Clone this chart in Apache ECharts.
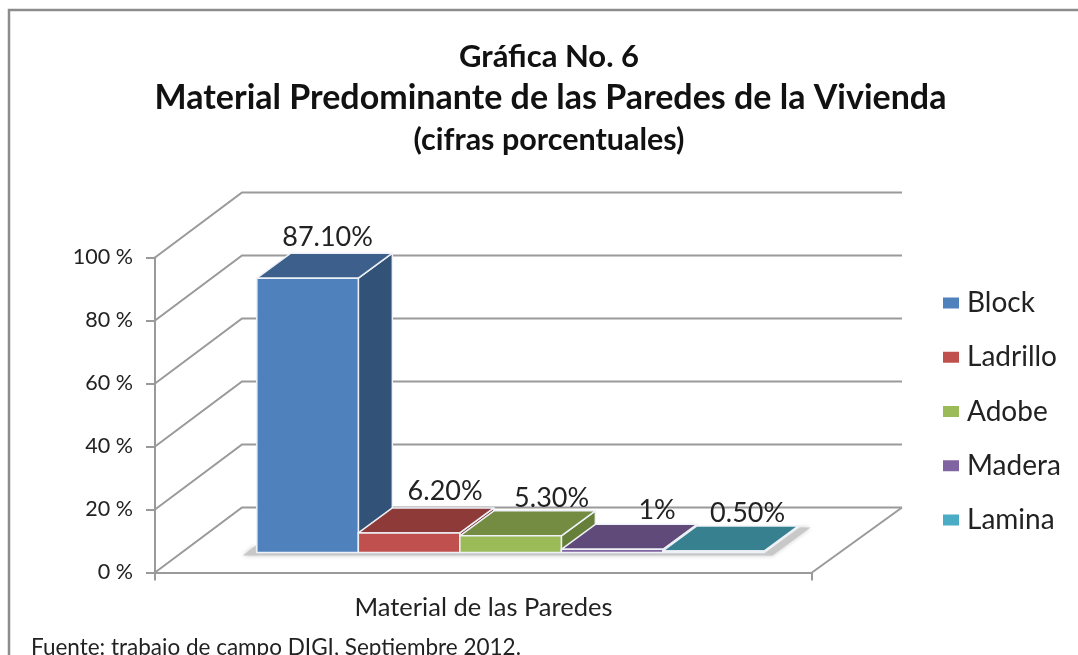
<!DOCTYPE html>
<html><head><meta charset="utf-8">
<style>html,body{margin:0;padding:0;background:#fff}#c{width:1078px;height:655px}</style>
<script src="https://cdn.jsdelivr.net/npm/echarts@6/dist/echarts.min.js"></script>
</head><body><div id="c"></div>
<script>
const categories = ['Material de las Paredes'];
const materials = ['Block', 'Ladrillo', 'Adobe', 'Madera', 'Lamina'];
const values = [87.1, 6.2, 5.3, 1, 0.5];
const valueLabels = ['87.10%', '6.20%', '5.30%', '1%', '0.50%'];
const yTicks = [0, 20, 40, 60, 80, 100];

const frontColors = ['#4f81bd', '#c0504d', '#9bbb59', '#8064a2', '#4bacc6'];
const topColors = ['#3c5f8c', '#8e3a38', '#748c42', '#5f4a79', '#37808f'];
const sideColors = ['#325278', '#7a302e', '#66803a', '#523f69', '#2f6f7d'];
const labelShift = [[20, -16], [36, -17], [41, -13], [45, -14], [34, -13]];

const GREY = '#9a9a9a', INK = '#222222', FONT = 'Lato, Carlito, sans-serif';
const WALL = [87, -65], BAR_DEPTH = [34, -25], BASE_LIFT = 20;
const BAR_START = 0.155, BAR_BAND = 0.1545;

function bar(i) {
  return function (params, api) {
    const base = api.coord([0, 0]);
    const top = api.coord([0, api.value(1)]);
    const band = api.size([1, 0])[0];
    const left = base[0] - band / 2;
    const x0 = left + band * (BAR_START + BAR_BAND * i);
    const x1 = x0 + band * BAR_BAND;
    const yb = base[1] - BASE_LIFT, yt = top[1] - BASE_LIFT;
    const [dx, dy] = BAR_DEPTH;
    const edge = { stroke: '#eef2f7', lineWidth: 1.5, lineJoin: 'round' };
    const poly = (pts, fill) => ({ type: 'polygon', shape: { points: pts }, style: Object.assign({ fill }, edge) });
    return {
      type: 'group',
      children: [
        poly([[x1, yb], [x1 + dx, yb + dy], [x1 + dx, yt + dy], [x1, yt]], sideColors[i]),
        poly([[x0, yt], [x1, yt], [x1 + dx, yt + dy], [x0 + dx, yt + dy]], topColors[i]),
        poly([[x0, yb], [x1, yb], [x1, yt], [x0, yt]], frontColors[i]),
        { type: 'text', z2: 50, style: {
            text: valueLabels[i], x: (x0 + x1) / 2 + labelShift[i][0], y: yt + dy + labelShift[i][1],
            align: 'center', verticalAlign: 'middle', font: '27px ' + FONT, fill: INK } }
      ]
    };
  };
}

function wall(params, api) {
  const p = api.coord([0, api.value(0)]);
  const band = api.size([1, 0])[0];
  const xL = p[0] - band / 2, xR = p[0] + band / 2;
  const style = { stroke: GREY, lineWidth: 2, fill: null };
  const children = [{ type: 'polyline', shape: { points: [[xL, p[1]], [xL + WALL[0], p[1] + WALL[1]], [xR + WALL[0] + 3, p[1] + WALL[1]]] }, style }];
  if (api.value(0) === 0) {
    children.push({ type: 'line', shape: { x1: xR, y1: p[1], x2: xR + WALL[0] + 3, y2: p[1] + WALL[1] }, style });
  }
  return { type: 'group', children };
}

function floorShadow(params, api) {
  const p = api.coord([0, 0]);
  const band = api.size([1, 0])[0];
  const left = p[0] - band / 2;
  const x0 = left + band * BAR_START - 14;
  const x1 = left + band * (BAR_START + BAR_BAND * 5);
  const yb = p[1] - BASE_LIFT;
  return { type: 'polygon', shape: { points: [
      [x0, yb + 3], [x0 + 13, yb - 7], [x0 + 13, yb], [x1, yb], [x1 + BAR_DEPTH[0], yb + BAR_DEPTH[1]], [x1 + 46, yb + BAR_DEPTH[1]], [x1 + 8, yb + 3]
    ] }, style: { fill: '#c8c8c8', shadowBlur: 4, shadowColor: '#c4c4c4' } };
}

const series = [
  { type: 'custom', name: 'paredes', silent: true, z: 1, coordinateSystem: 'cartesian2d', renderItem: wall, data: yTicks.map(v => [v]), encode: { y: 0 } },
  { type: 'custom', name: 'sombra', silent: true, z: 2, coordinateSystem: 'cartesian2d', renderItem: floorShadow, data: [[0, 0]] }
].concat(materials.map((m, i) => ({
  type: 'custom', name: m, z: 3 + i, coordinateSystem: 'cartesian2d',
  itemStyle: { color: frontColors[i] }, renderItem: bar(i), data: [[0, values[i]]]
})));

const chart = echarts.init(document.getElementById('c'), null, { renderer: 'canvas' });
chart.setOption({
  animation: false,
  backgroundColor: '#fff',
  title: [
    { text: 'Gráfica No. 6', left: 544, textAlign: 'center', top: 36, textStyle: { fontFamily: FONT, fontSize: 31, fontWeight: 'bold', color: '#111' } },
    { text: 'Material Predominante de las Paredes de la Vivienda', left: 545.5, textAlign: 'center', top: 76, textStyle: { fontFamily: FONT, fontSize: 34, fontWeight: 'bold', color: '#111' } },
    { text: '(cifras porcentuales)', left: 544, textAlign: 'center', top: 120, textStyle: { fontFamily: FONT, fontSize: 30.5, fontWeight: 'bold', color: '#111' } }
  ],
  legend: {
    data: materials, orient: 'vertical', left: 938, top: 284, icon: 'rect',
    itemWidth: 16, itemHeight: 11, itemGap: 26.25, selectedMode: false,
    textStyle: { fontFamily: FONT, fontSize: 28, color: INK, padding: [0, 0, 0, 3] }
  },
  grid: { left: 155, right: 266, top: 257.5, bottom: 82.5, containLabel: false },
  xAxis: {
    type: 'category', data: categories,
    axisLine: { lineStyle: { color: GREY, width: 2 } },
    axisTick: { show: true, length: 8, lineStyle: { color: GREY, width: 2 } },
    axisLabel: { fontFamily: FONT, fontSize: 25.5, color: INK, margin: 22 }
  },
  yAxis: {
    type: 'value', min: 0, max: 100, interval: 20,
    axisLine: { show: true, lineStyle: { color: GREY, width: 2 } },
    axisTick: { show: true, length: 9, lineStyle: { color: GREY, width: 2 } },
    axisLabel: { formatter: '{value} %', fontFamily: FONT, fontSize: 21.5, color: INK, margin: 22 },
    splitLine: { show: false }
  },
  graphic: [
    { type: 'polyline', silent: true, shape: { points: [[9, 655], [9, 10], [1078, 10]] }, style: { stroke: '#8c8c8c', lineWidth: 2.5, fill: null } },
    { type: 'text', silent: true, left: 31, top: 636, style: { text: 'Fuente: trabajo de campo DIGI, Septiembre 2012.', font: '22.5px ' + FONT, fill: INK } }
  ],
  series
});
</script></body></html>
